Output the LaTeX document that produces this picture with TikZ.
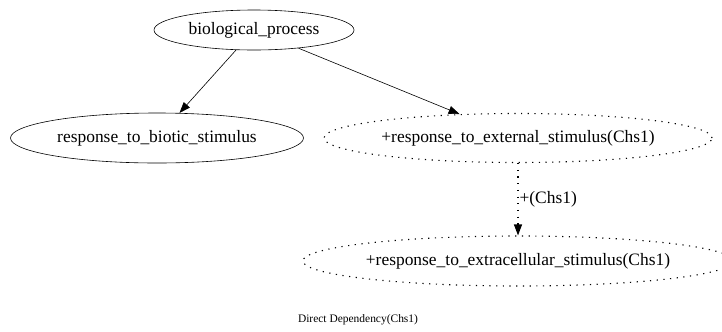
\documentclass[tikz,border=0pt]{standalone}
\usepackage{fontspec}
\setmainfont{Liberation Serif}
\usetikzlibrary{positioning, arrows.meta, shapes.geometric}

\begin{document}
\begin{tikzpicture}[x=1bp, y=-1bp, >={Triangle[length=11bp,width=8bp]}, semithick,
    term/.style={ellipse, draw, inner sep=0pt, font=\fontsize{17.5}{20}\selectfont},
    inferred/.style={term, line width=1.1bp, dash pattern=on 1.2bp off 5.5bp},
    dotedge/.style={->, line width=1.1bp, dash pattern=on 1.2bp off 5.5bp}]
      \useasboundingbox (0,0) rectangle (722,331);

      \node[term, minimum width=200bp, minimum height=40bp] (bp) at (254,30) {biological\_process};
      \node[term, minimum width=293bp, minimum height=50bp] (biotic) at (157,138) {response\_to\_biotic\_stimulus};
      \node[inferred, minimum width=388bp, minimum height=49bp] (ext) at (518,138) {+response\_to\_external\_stimulus(Chs1)};
      \node[inferred, minimum width=422bp, minimum height=50bp] (extra) at (518,261) {+response\_to\_extracellular\_stimulus(Chs1)};

      \draw[->] (bp) -- (biotic);
      \draw[->] (bp) -- (ext);
      \draw[dotedge] (ext) -- node[right, inner sep=1bp, font=\fontsize{17.5}{20}\selectfont] {+(Chs1)} (extra);

      \node[font=\fontsize{11.5}{13}\selectfont] (title) at (358,320) {Direct Dependency(Chs1)};
    \end{tikzpicture}
\end{document}
